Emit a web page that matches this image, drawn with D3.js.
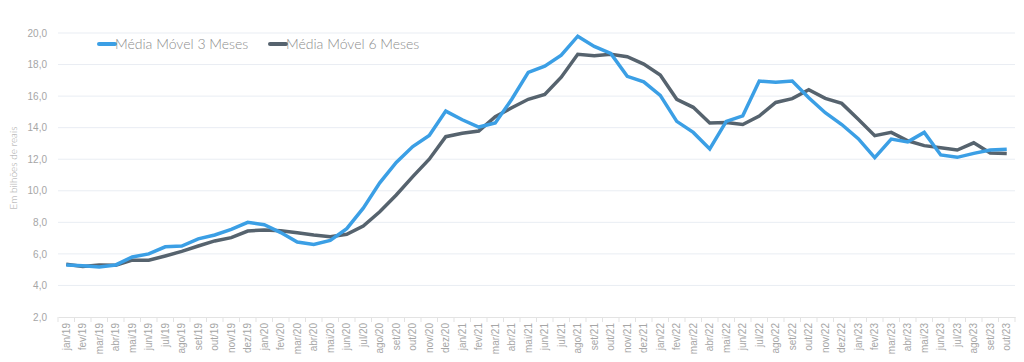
<!DOCTYPE html>
<meta charset="utf-8">
<style>
body { margin: 0; background: #fff; }
svg { font-family: Lato, "Open Sans", sans-serif; font-weight: 300; }
.grid line { stroke: #e9edf3; stroke-width: 1px; }
.axis text { fill: #a6a6a6; font-size: 10px; }
.line { fill: none; stroke-width: 3.5px; stroke-linejoin: miter; }
.legend text { fill: #8c8c8c; font-size: 14px; }
</style>
<svg width="1024" height="362"></svg>
<script src="https://cdn.jsdelivr.net/npm/d3@7"></script>
<script>

var months = ["jan/19","fev/19","mar/19","abr/19","mai/19","jun/19","jul/19","ago/19","set/19","out/19","nov/19","dez/19",
  "jan/20","fev/20","mar/20","abr/20","mai/20","jun/20","jul/20","ago/20","set/20","out/20","nov/20","dez/20",
  "jan/21","fev/21","mar/21","abr/21","mai/21","jun/21","jul/21","ago/21","set/21","out/21","nov/21","dez/21",
  "jan/22","fev/22","mar/22","abr/22","mai/22","jun/22","jul/22","ago/22","set/22","out/22","nov/22","dez/22",
  "jan/23","fev/23","mar/23","abr/23","mai/23","jun/23","jul/23","ago/23","set/23","out/23"];

var media3 = [5.3,5.25,5.17,5.3,5.8,6.0,6.45,6.5,6.95,7.2,7.55,8.0,
  7.85,7.35,6.75,6.6,6.85,7.6,8.9,10.5,11.8,12.8,13.5,15.05,
  14.5,14.04,14.3,15.8,17.5,17.9,18.6,19.8,19.15,18.7,17.25,16.9,
  16.05,14.4,13.7,12.65,14.4,14.75,16.95,16.88,16.95,15.9,14.95,14.2,
  13.3,12.1,13.28,13.1,13.7,12.27,12.12,12.37,12.58,12.63];

var media6 = [5.34,5.2,5.3,5.28,5.6,5.6,5.87,6.16,6.5,6.82,7.03,7.45,
  7.52,7.47,7.34,7.2,7.09,7.24,7.77,8.67,9.73,10.9,12.0,13.43,
  13.64,13.79,14.7,15.26,15.8,16.1,17.2,18.65,18.56,18.65,18.5,18.03,
  17.34,15.8,15.29,14.3,14.32,14.2,14.74,15.6,15.84,16.4,15.86,15.54,
  14.53,13.49,13.7,13.17,12.86,12.73,12.58,13.04,12.4,12.37];

var yTicks = [2,4,6,8,10,12,14,16,18,20];

var series = [
  { name: "Média Móvel 3 Meses", values: media3, color: "#3b9fe5" },
  { name: "Média Móvel 6 Meses", values: media6, color: "#56636e" }
];

var svg = d3.select("svg"),
    margin = { top: 33, right: 9, bottom: 45, left: 58 },
    width = +svg.attr("width") - margin.left - margin.right,
    height = +svg.attr("height") - margin.top - margin.bottom,
    g = svg.append("g").attr("transform", "translate(" + margin.left + "," + margin.top + ")");

var locale = d3.formatLocale({ decimal: ",", thousands: ".", grouping: [3], currency: ["R$", ""] });
var fmt = locale.format(".1f");

var x = d3.scaleBand().domain(months).range([0, width]).padding(0);
var y = d3.scaleLinear().domain([2, 20]).range([height, 0]);

// grid
g.append("g")
    .attr("class", "grid")
  .selectAll("line")
  .data(yTicks.slice(1))
  .enter().append("line")
    .attr("x1", 0).attr("x2", width)
    .attr("y1", y).attr("y2", y);

// y axis labels
var yAxis = g.append("g")
    .attr("class", "axis")
    .call(d3.axisLeft(y).tickValues(yTicks).tickFormat(fmt).tickSize(0).tickPadding(11));
yAxis.select(".domain").remove();

// x axis
var xAxis = g.append("g")
    .attr("class", "axis")
    .attr("transform", "translate(0," + height + ")")
    .call(d3.axisBottom(x).tickSize(0).tickPadding(0));
xAxis.select(".domain").attr("stroke", "#e3e3e3");
xAxis.selectAll("text")
    .attr("transform", "rotate(-90)")
    .attr("x", -6)
    .attr("dy", "0.35em")
    .attr("y", 0)
    .style("text-anchor", "end");

// tick marks at band boundaries
xAxis.selectAll(".bound")
    .data(months.concat(["end"]))
  .enter().append("line")
    .attr("class", "bound")
    .attr("x1", function(d, i) { return i * x.bandwidth(); })
    .attr("x2", function(d, i) { return i * x.bandwidth(); })
    .attr("y1", 0).attr("y2", 5)
    .attr("stroke", "#e3e3e3");

// y axis title
svg.append("text")
    .attr("transform", "translate(17,168) rotate(-90)")
    .attr("text-anchor", "middle")
    .style("font-size", "10px")
    .style("fill", "#a6a6a6")
    .text("Em bilhões de reais");

var line = d3.line()
    .x(function(d, i) { return x(months[i]) + x.bandwidth() / 2; })
    .y(function(d) { return y(d); });

g.selectAll(".line")
    .data(series.slice().reverse())
  .enter().append("path")
    .attr("class", "line")
    .attr("stroke", function(d) { return d.color; })
    .attr("d", function(d) { return line(d.values); });

// legend
var legend = svg.append("g").attr("class", "legend");
var lx = [99, 270];
series.forEach(function(s, i) {
  legend.append("line")
      .attr("x1", lx[i]).attr("x2", lx[i] + 16)
      .attr("y1", 44).attr("y2", 44)
      .attr("stroke", s.color)
      .attr("stroke-width", 4)
      .attr("stroke-linecap", "round");
  legend.append("text")
      .attr("x", lx[i] + 16)
      .attr("y", 49)
      .text(s.name);
});

</script>
